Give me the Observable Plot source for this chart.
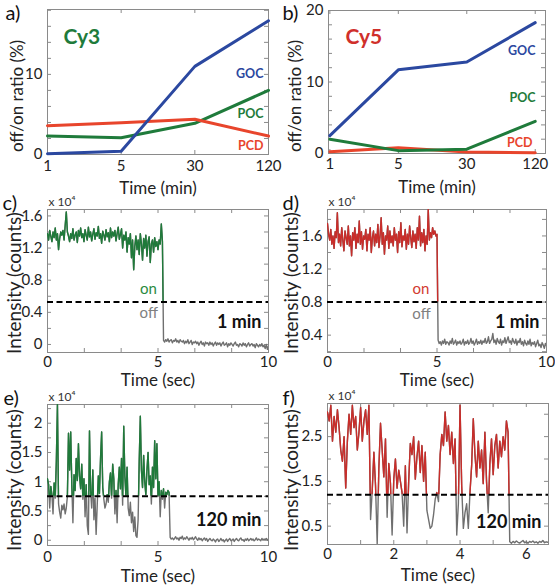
<!DOCTYPE html>
<html><head><meta charset="utf-8">
<script src="https://cdn.jsdelivr.net/npm/d3@7"></script>
<script src="https://cdn.jsdelivr.net/npm/@observablehq/plot@0.6"></script>
<style>
body{margin:0;background:#fff;}
#fig{position:relative;width:555px;height:588px;overflow:hidden;background:#fff;}
#fig svg{position:absolute;overflow:visible;}
</style></head><body><div id="fig"></div>
<script>
// ---------- data ----------
const timeLabels = ["1", "5", "30", "120"];
const cy3GOC = [0.1, 0.4, 11.0, 16.7];
const cy3POC = [2.3, 2.1, 3.9, 8.0];
const cy3PCD = [3.6, 3.95, 4.4, 2.3];
const cy5GOC = [2.5, 11.7, 12.8, 18.3];
const cy5POC = [2.0, 0.4, 0.6, 4.5];
const cy5PCD = [0.25, 0.8, 0.2, 0.1];

const frameInterval = 0.05; // seconds per frame

// panel c: Cy3, 1 min (x10^4 counts)
const traceC = [
1.38,1.30,1.42,1.35,1.28,1.40,1.33,1.45,1.30,1.38,1.18,
1.32,1.40,1.36,1.42,1.30,1.48,1.65,1.40,1.35,1.28,
1.38,1.32,1.44,1.30,1.36,1.40,1.27,1.42,1.35,1.45,
1.33,1.38,1.28,1.43,1.36,1.30,1.46,1.34,1.40,1.29,
1.37,1.44,1.31,1.39,1.35,1.47,1.32,1.38,1.26,1.41,
1.36,1.30,1.43,1.34,1.39,1.28,1.45,1.33,1.40,1.35,
1.42,1.29,1.38,1.46,1.31,1.37,1.44,1.20,1.36,1.30,
1.40,1.15,1.33,1.25,1.38,1.08,1.30,0.93,1.22,1.35,
1.18,1.30,1.12,1.38,1.25,1.05,1.32,1.20,1.36,1.10,
1.28,1.34,1.02,1.25,1.30,1.15,1.33,1.22,1.28,1.18,
1.30,1.25,1.50,1.28,
0.05,0.03,0.06,0.04,0.07,0.03,0.05,0.06,0.02,0.05,
0.04,0.07,0.03,0.05,0.02,0.06,0.04,0.03,0.05,0.01,
0.04,0.02,0.06,0.01,0.03,0.05,0.00,0.03,0.02,0.04,
0.01,0.03,-0.01,0.02,0.04,0.00,0.02,-0.02,0.03,0.01,
0.02,-0.01,0.03,0.00,0.02,-0.02,0.01,0.03,-0.01,0.02,
0.00,0.02,-0.02,0.01,0.03,-0.01,0.00,0.02,-0.03,0.01,
-0.01,0.02,0.00,-0.02,0.01,0.03,-0.01,0.00,-0.03,0.01,
0.00,-0.02,0.02,-0.01,0.01,-0.03,0.00,0.02,-0.02,0.00,
0.01,-0.02,0.00,-0.04,0.01,-0.01,-0.03,0.00,-0.02,0.01,
-0.03,-0.01,-0.05,0.00,-0.06,-0.02
];
// panel d: Cy5, 1 min
const traceD = [
1.75,1.62,1.55,1.68,1.50,1.60,1.45,1.65,1.58,1.88,
1.52,1.62,1.48,1.70,1.55,1.42,1.66,1.58,1.50,1.72,
1.48,1.60,1.36,1.64,1.55,1.70,1.45,1.62,1.52,1.78,
1.50,1.65,1.44,1.60,1.56,1.68,1.42,1.62,1.55,1.70,
1.40,1.58,1.66,1.48,1.62,1.52,1.74,1.46,1.60,1.82,
1.50,1.64,1.38,1.60,1.55,1.72,1.45,1.66,1.52,1.60,
1.48,1.70,1.55,1.62,1.40,1.65,1.52,1.76,1.47,1.60,
1.55,1.68,1.44,1.62,1.50,1.72,1.58,1.46,1.66,1.53,
1.62,1.45,1.70,1.55,1.84,1.48,1.64,1.52,1.68,1.42,
1.60,1.50,1.92,1.55,1.64,1.58,1.70,1.62,1.66,1.60,
1.62,
0.34,0.30,0.32,0.28,0.33,0.30,0.35,0.29,0.32,0.31,
0.28,0.33,0.30,0.36,0.29,0.31,0.34,0.28,0.32,0.30,
0.33,0.29,0.31,0.35,0.28,0.32,0.30,0.34,0.29,0.31,
0.36,0.30,0.33,0.28,0.31,0.35,0.29,0.32,0.30,0.34,
0.29,0.33,0.31,0.36,0.30,0.32,0.38,0.30,0.33,0.35,
0.42,0.31,0.34,0.29,0.36,0.32,0.30,0.35,0.28,0.33,
0.31,0.37,0.30,0.34,0.38,0.31,0.33,0.29,0.36,0.32,
0.30,0.35,0.28,0.33,0.31,0.36,0.29,0.32,0.27,0.34,
0.30,0.28,0.33,0.29,0.35,0.27,0.31,0.29,0.32,0.26,
0.30,0.34,0.27,0.29,0.25,0.31,0.28,0.24,0.30,0.27
];
// panel e: Cy3, 120 min
const traceE = [
1.05,0.95,0.55,0.92,0.78,0.45,0.98,0.72,1.35,2.32,
0.62,0.48,0.38,0.60,0.52,0.62,0.45,0.55,0.75,1.83,
1.20,1.85,0.95,0.30,1.12,0.85,1.40,1.02,1.65,1.10,
0.88,1.30,0.70,1.05,0.40,0.95,0.25,0.10,1.87,0.85,
0.55,1.20,0.35,0.72,0.10,0.60,1.10,0.80,1.40,1.85,
0.90,0.70,0.55,0.62,0.78,0.65,1.00,1.15,0.72,1.30,
1.05,0.45,0.85,0.30,0.95,1.25,0.88,1.40,0.60,1.95,
1.10,0.75,1.25,0.55,0.42,0.65,0.30,0.48,0.15,0.40,
0.08,0.05,0.35,1.35,2.12,1.20,0.90,1.45,1.00,0.78,
1.20,1.50,0.95,1.10,0.62,1.25,0.90,1.70,1.05,1.65,
0.75,1.00,0.40,0.85,0.70,0.88,0.55,0.82,0.78,0.85,
0.82,
0.05,0.02,0.04,0.01,0.03,0.06,0.02,0.04,0.00,0.05,
0.03,0.07,0.01,0.04,0.02,0.06,0.03,0.00,0.04,0.02,
0.05,0.01,0.03,0.06,0.02,0.00,0.04,0.01,0.03,-0.01,
0.02,0.04,0.00,0.03,-0.02,0.01,0.03,0.00,-0.01,0.02,
0.00,-0.03,0.01,0.02,-0.02,0.00,0.03,-0.01,0.01,-0.03,
0.00,0.02,-0.02,0.01,0.03,-0.01,0.00,0.02,-0.02,0.01,
0.03,0.00,-0.01,0.02,0.04,0.00,0.01,-0.02,0.02,0.00,
0.03,-0.01,0.01,0.03,0.00,0.02,-0.01,0.01,0.04,0.00,
0.02,0.01,-0.01,0.03,0.00,0.02,0.01,0.03,0.00,0.02
];
// panel f: Cy5, 120 min
const traceF = [
3.05,2.85,3.20,2.40,2.95,2.60,3.10,2.70,2.20,1.95,
2.50,1.35,2.40,3.00,2.55,3.20,2.70,2.95,2.20,2.60,
3.15,2.40,2.85,3.10,2.55,3.20,0.65,1.30,2.15,1.40,
0.10,1.80,2.80,2.20,1.60,2.45,0.70,1.90,1.45,0.30,
1.55,2.00,1.35,1.75,1.50,1.25,0.50,1.85,0.35,1.50,
2.35,2.10,2.50,1.55,2.05,2.40,1.70,2.30,1.50,2.15,
0.85,0.65,0.45,0.50,0.75,1.10,1.25,1.05,2.10,2.55,
2.30,3.05,2.40,2.75,2.10,2.60,1.90,2.45,0.30,1.00,
3.20,1.40,0.45,0.80,1.00,0.45,1.25,1.85,2.90,2.10,
1.60,2.40,1.80,2.20,1.45,2.60,1.50,0.80,1.90,2.45,
1.65,2.30,2.55,1.80,2.40,2.05,2.50,2.20,2.85,2.60,
0.15,0.12,0.16,0.13,0.17,0.14,0.12,0.15,0.18,0.13,0.15,0.12,
0.16,0.14,0.17,0.13,0.15,0.12,0.16,0.14,0.18,0.13,0.15,0.14
];
const thresholdC = 0.53, thresholdD = 0.80, thresholdE = 0.75, thresholdF = 1.2;

// ---------- styling ----------
const FONT = "Lato, 'Open Sans', sans-serif";
const FRAME = "#8a8a8a";
const BLUE = "#2b48a0", GREEN = "#1f7b3b", ORANGE = "#e8452c", RED = "#d0302b";
const TRACE_GREEN = "#1f7a3a", TRACE_RED = "#c92d2a", GRAY = "#6f6f6f";
const fig = document.getElementById("fig");
let clipCount = 0;

function series(vals) { return vals.map((v, i) => ({t: i * frameInterval, v})); }
function steps(a, b, s) { const out = []; for (let v = a; v <= b + 1e-9; v += s) out.push(+v.toFixed(4)); return out; }

function boxMarks(W, H, o) {
  return [
    Plot.tickY(o.yMinor, {y: d => d, insetRight: W - 4, stroke: FRAME}),
    Plot.tickY(o.yMinor, {y: d => d, insetLeft: W - 4, stroke: FRAME}),
    Plot.tickX(o.xMinor, {x: d => d, insetTop: H - 4, stroke: FRAME}),
    Plot.tickX(o.xMinor, {x: d => d, insetBottom: H - 4, stroke: FRAME}),
    Plot.axisX(o.xTicks, {tickSize: 0, tickPadding: o.xPad ?? 5.5, tickFormat: o.xFormat || (d => String(d)), label: null, fontSize: 15, color: "#222"}),
    Plot.axisY(o.yTicks, {tickSize: 0, tickPadding: 5, tickFormat: o.yFormat || (d => String(d)), label: null, fontSize: 15, color: "#222"}),
    Plot.frame({stroke: FRAME})
  ];
}
function labelMarks(o) {
  return [
    Plot.text([o.xLabel], {text: d => d, frameAnchor: "bottom", textAnchor: "middle", lineAnchor: "middle", dy: o.xdy, fontSize: 17, fill: "#222"}),
    Plot.text([o.yLabel], {text: d => d, frameAnchor: "left", textAnchor: "middle", lineAnchor: "middle", rotate: -90, dx: o.ydx, dy: o.ydy, fontSize: o.ySize, fill: "#222"}),
    Plot.text([o.letter], {text: d => d, frameAnchor: "top-left", textAnchor: "start", lineAnchor: "middle", dx: o.ldx, dy: o.ldy, fontSize: 20, fill: "#111"})
  ];
}
function place(svg, left, top) {
  svg.style.left = left + "px"; svg.style.top = top + "px";
  fig.appendChild(svg);
  return svg;
}
function clipAbove(svg, thr) {
  const yThr = svg.scale("y").apply(thr);
  const g = svg.querySelectorAll('g[aria-label="line"]')[1];
  const ns = "http://www.w3.org/2000/svg";
  const id = "clipabove" + (clipCount++);
  const defs = document.createElementNS(ns, "defs");
  const cp = document.createElementNS(ns, "clipPath");
  cp.setAttribute("id", id);
  const r = document.createElementNS(ns, "rect");
  r.setAttribute("x", 0); r.setAttribute("y", 0);
  r.setAttribute("width", svg.getAttribute("width")); r.setAttribute("height", yThr);
  cp.appendChild(r); defs.appendChild(cp); svg.insertBefore(defs, svg.firstChild);
  const wrap = document.createElementNS(ns, "g");
  wrap.setAttribute("clip-path", `url(#${id})`);
  g.parentNode.insertBefore(wrap, g); wrap.appendChild(g);
}
const tag = (t, color, size, o) => Plot.text([t], {text: d => d, frameAnchor: "top-right", textAnchor: "end", lineAnchor: "middle", fontWeight: "bold", fontSize: size, fill: color, ...o});

// ---------- panel a ----------
(function() {
  const width = 278, height = 195, mt = 9, mr = 10, mb = 41, ml = 47;
  const W = width - ml - mr, H = height - mt - mb;
  const idx = timeLabels.map((d, i) => i);
  const mk = (vals) => vals.map((v, i) => ({i, v}));
  const svg = Plot.plot({
    width, height, marginTop: mt, marginRight: mr, marginBottom: mb, marginLeft: ml,
    style: {fontFamily: FONT, fontSize: "15px", color: "#222", background: "transparent"},
    x: {domain: [0, 3]}, y: {domain: [0, 18.1]},
    marks: [
      ...boxMarks(W, H, {yMinor: steps(0, 18, 2), xMinor: idx, xTicks: idx, xFormat: i => timeLabels[i], yTicks: [0, 10], xPad: 5.5}),
      Plot.line(mk(cy3POC), {x: "i", y: "v", stroke: GREEN, strokeWidth: 3}),
      Plot.line(mk(cy3PCD), {x: "i", y: "v", stroke: ORANGE, strokeWidth: 3}),
      Plot.line(mk(cy3GOC), {x: "i", y: "v", stroke: BLUE, strokeWidth: 3}),
      Plot.text(["Cy3"], {text: d => d, frameAnchor: "top-left", textAnchor: "start", lineAnchor: "middle", dx: 16, dy: 28, fontSize: 21, fontWeight: "bold", fill: GREEN}),
      tag("GOC", BLUE, 12.5, {dx: -5, dy: 64}),
      tag("POC", GREEN, 12.5, {dx: -5, dy: 104}),
      tag("PCD", ORANGE, 12.5, {dx: -5, dy: 136}),
      ...labelMarks({xLabel: "Time (min)", xdy: 34, yLabel: "off/on ratio (%)", ySize: 17, ydx: -30, ydy: 14, letter: "a)", ldx: -42, ldy: 4.5})
    ]
  });
  place(svg, 0, 0);
})();

// ---------- panel b ----------
(function() {
  const width = 277, height = 195, mt = 10, mr = 10, mb = 42, ml = 50;
  const W = width - ml - mr, H = height - mt - mb;
  const idx = timeLabels.map((d, i) => i);
  const mk = (vals) => vals.map((v, i) => ({i, v}));
  const svg = Plot.plot({
    width, height, marginTop: mt, marginRight: mr, marginBottom: mb, marginLeft: ml,
    style: {fontFamily: FONT, fontSize: "15px", color: "#222", background: "transparent"},
    x: {domain: [-0.02, 3.15]}, y: {domain: [0, 20]},
    marks: [
      ...boxMarks(W, H, {yMinor: steps(0, 20, 2), xMinor: idx, xTicks: idx, xFormat: i => timeLabels[i], yTicks: [0, 10, 20], xPad: 4.5}),
      Plot.line(mk(cy5PCD), {x: "i", y: "v", stroke: ORANGE, strokeWidth: 3}),
      Plot.line(mk(cy5POC), {x: "i", y: "v", stroke: GREEN, strokeWidth: 3}),
      Plot.line(mk(cy5GOC), {x: "i", y: "v", stroke: BLUE, strokeWidth: 3}),
      Plot.text(["Cy5"], {text: d => d, frameAnchor: "top-left", textAnchor: "start", lineAnchor: "middle", dx: 17, dy: 27, fontSize: 21, fontWeight: "bold", fill: RED}),
      tag("GOC", BLUE, 12.5, {dx: -10, dy: 40}),
      tag("POC", GREEN, 12.5, {dx: -10, dy: 87}),
      tag("PCD", ORANGE, 12.5, {dx: -13, dy: 132}),
      ...labelMarks({xLabel: "Time (min)", xdy: 34, yLabel: "off/on ratio (%)", ySize: 17, ydx: -33, ydy: 14, letter: "b)", ldx: -46, ldy: 3.5})
    ]
  });
  place(svg, 278, 0);
})();

// ---------- trace panels ----------
function tracePanel(o) {
  const W = o.width - o.ml - o.mr, H = o.height - o.mt - o.mb;
  const data = series(o.trace);
  const svg = Plot.plot({
    width: o.width, height: o.height, marginTop: o.mt, marginRight: o.mr, marginBottom: o.mb, marginLeft: o.ml,
    style: {fontFamily: FONT, fontSize: "15px", color: "#222", background: "transparent"},
    x: {domain: o.xDomain}, y: {domain: o.yDomain},
    marks: [
      ...boxMarks(W, H, o.ticks),
      Plot.line(data, {x: "t", y: "v", stroke: GRAY, strokeWidth: 1.4, clip: true}),
      Plot.line(data, {x: "t", y: "v", stroke: o.color, strokeWidth: 1.4, clip: true}),
      Plot.ruleY([o.threshold], {stroke: "#000", strokeWidth: 2, strokeDasharray: "6,3.5"}),
      Plot.text(["x 10⁴"], {text: d => d, frameAnchor: "top-left", textAnchor: "start", lineAnchor: "bottom", dx: 1, dy: -4, fontSize: 12, fill: "#333"}),
      ...(o.on ? [
        Plot.text(["on"], {text: d => d, x: o.on[0], y: o.on[1], lineAnchor: "middle", fontSize: 15, fill: o.textColor}),
        Plot.text(["off"], {text: d => d, x: o.off[0], y: o.off[1], lineAnchor: "middle", fontSize: 15, fill: "#808080"})
      ] : []),
      Plot.text([o.tag], {text: d => d, frameAnchor: "bottom-right", textAnchor: "end", lineAnchor: "middle", dx: -7, dy: o.tagDy, fontSize: 18, fontWeight: "bold", fill: "#111"}),
      ...labelMarks(o.labels)
    ]
  });
  place(svg, o.left, o.top);
  clipAbove(svg, o.threshold);
}

tracePanel({
  left: 0, top: 195, width: 278, height: 195, mt: 14, mr: 10, mb: 38, ml: 47,
  trace: traceC, threshold: thresholdC, color: TRACE_GREEN, textColor: "#2a8a3e",
  xDomain: [0, 10], yDomain: [-0.1, 1.68],
  ticks: {yMinor: steps(0, 1.6, 0.2), yTicks: [0, 0.4, 0.8, 1.2, 1.6], xMinor: steps(0, 10, 10 / 6), xTicks: [0, 5, 10], xPad: 4},
  on: [4.57, 0.69], off: [4.58, 0.39], tag: "1 min", tagDy: -30,
  labels: {xLabel: "Time (sec)", xdy: 28.5, yLabel: "Intensity (counts)", ySize: 19, ydx: -32.5, ydy: 2, letter: "c)", ldx: -45, ldy: -6}
});
tracePanel({
  left: 278, top: 195, width: 277, height: 195, mt: 14, mr: 9, mb: 38, ml: 49,
  trace: traceD, threshold: thresholdD, color: TRACE_RED, textColor: "#d23a2f",
  xDomain: [0, 10], yDomain: [0.19, 1.92],
  ticks: {yMinor: steps(0.2, 1.8, 0.2), yTicks: [0.4, 0.8, 1.2, 1.6], xMinor: steps(0, 10, 10 / 6), xTicks: [0, 5, 10], xPad: 4},
  on: [4.27, 0.95], off: [4.29, 0.656], tag: "1 min", tagDy: -30,
  labels: {xLabel: "Time (sec)", xdy: 28.5, yLabel: "Intensity (counts)", ySize: 19, ydx: -36, ydy: 2, letter: "d)", ldx: -45, ldy: -6}
});
tracePanel({
  left: 0, top: 390, width: 278, height: 198, mt: 14, mr: 10, mb: 43, ml: 47,
  trace: traceE, threshold: thresholdE, color: TRACE_GREEN,
  xDomain: [0, 10], yDomain: [-0.09, 2.32],
  ticks: {yMinor: steps(0, 2.25, 0.25), yTicks: [0, 0.5, 1, 1.5, 2], xMinor: steps(0, 10, 10 / 6), xTicks: [0, 5, 10], xPad: 6},
  tag: "120 min", tagDy: -25,
  labels: {xLabel: "Time (sec)", xdy: 31, yLabel: "Intensity (counts)", ySize: 19, ydx: -32.5, ydy: 5, letter: "e)", ldx: -44, ldy: -6}
});
tracePanel({
  left: 278, top: 390, width: 277, height: 198, mt: 13, mr: 7, mb: 44, ml: 49,
  trace: traceF, threshold: thresholdF, color: TRACE_RED,
  xDomain: [0, 6.67], yDomain: [0.09, 3.24],
  ticks: {yMinor: steps(0.5, 3, 0.5), yTicks: [0.5, 1.5, 2.5], xMinor: steps(0, 6, 1), xTicks: [0, 2, 4, 6], xPad: 4},
  tag: "120 min", tagDy: -22.5,
  labels: {xLabel: "Time (sec)", xdy: 31, yLabel: "Intensity (counts)", ySize: 19, ydx: -36, ydy: 6, letter: "f)", ldx: -45, ldy: -5}
});
</script></body></html>
